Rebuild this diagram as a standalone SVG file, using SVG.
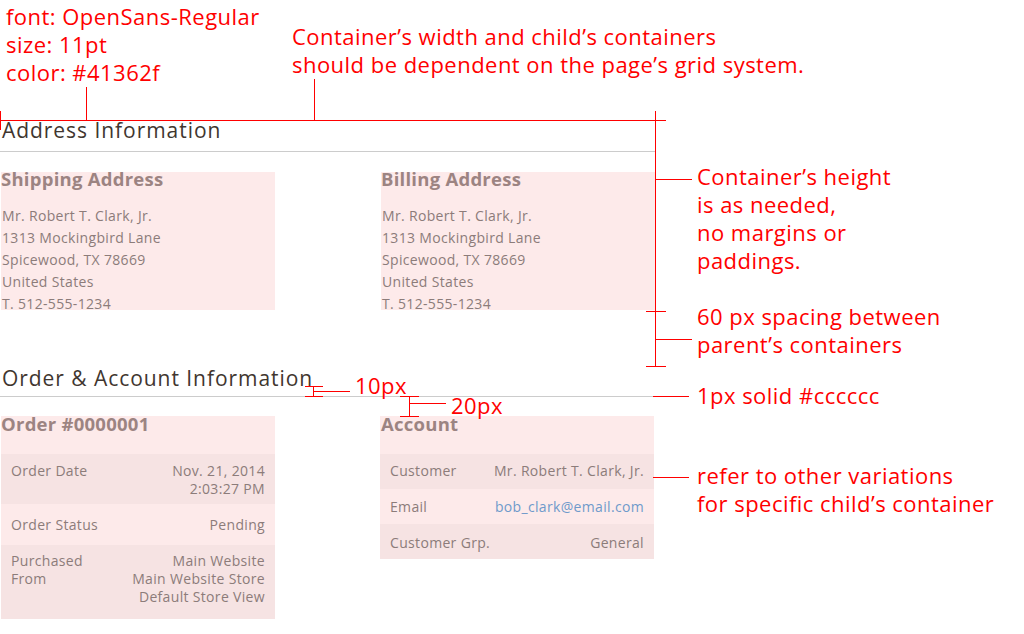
<svg xmlns="http://www.w3.org/2000/svg" width="1024" height="634" viewBox="0 0 1024 634">
<style>
.note{font-family:"Open Sans","Noto Sans",sans-serif;font-size:22px;letter-spacing:0.47px;fill:#ff0000}
.h1{font-family:"Open Sans","Noto Sans",sans-serif;font-size:21px;letter-spacing:0.95px;fill:#41362f}
.h2{font-family:"Open Sans","Noto Sans",sans-serif;font-size:18.5px;letter-spacing:0.25px;font-weight:bold;fill:#9c8482}
.t{font-family:"Open Sans","Noto Sans",sans-serif;font-size:14px;letter-spacing:0.33px;fill:#8c7c7a}
.r{text-anchor:end}
.link{fill:#6f9acb}
.red{stroke:#ff0000;stroke-width:1;fill:none}
.rule{stroke:#cccccc;stroke-width:1}
.bg1{fill:#fdeaea}
.bg2{fill:#f6e3e3}
</style>
<rect width="1024" height="634" fill="#ffffff"/>

<g id="annotation-font">
<text class="note" x="6" y="25">font: OpenSans-Regular</text>
<text class="note" x="6" y="53">size: 11pt</text>
<text class="note" x="6" y="81">color: #41362f</text>
</g>
<g id="annotation-width">
<text class="note" x="292" y="45">Container’s width and child’s containers</text>
<text class="note" x="292" y="73">should be dependent on the page’s grid system.</text>
</g>

<g id="address-section">
<text class="h1" x="2" y="138">Address Information</text>
<line class="rule" x1="0" y1="151.5" x2="655" y2="151.5"/>
</g>

<g id="shipping-address">
<rect class="bg1" x="1" y="172" width="274" height="138"/>
<text class="h2" x="1" y="186">Shipping Address</text>
<text class="t" x="2" y="221">Mr. Robert T. Clark, Jr.</text>
<text class="t" x="2" y="243">1313 Mockingbird Lane</text>
<text class="t" x="2" y="265">Spicewood, TX 78669</text>
<text class="t" x="2" y="287">United States</text>
<text class="t" x="2" y="309">T. 512-555-1234</text>
</g>

<g id="billing-address">
<rect class="bg1" x="381" y="172" width="274" height="138"/>
<text class="h2" x="381" y="186">Billing Address</text>
<text class="t" x="382" y="221">Mr. Robert T. Clark, Jr.</text>
<text class="t" x="382" y="243">1313 Mockingbird Lane</text>
<text class="t" x="382" y="265">Spicewood, TX 78669</text>
<text class="t" x="382" y="287">United States</text>
<text class="t" x="382" y="309">T. 512-555-1234</text>
</g>

<g id="order-section">
<text class="h1" x="2" y="386">Order &amp; Account Information</text>
<line class="rule" x1="0" y1="396.5" x2="655" y2="396.5"/>
</g>

<g id="order">
<rect class="bg1" x="1" y="416" width="274" height="38"/>
<rect class="bg2" x="1" y="454" width="274" height="50"/>
<rect class="bg1" x="1" y="504" width="274" height="41"/>
<rect class="bg2" x="1" y="545" width="274" height="74"/>
<text class="h2" x="1" y="431">Order #0000001</text>
<text class="t" x="11" y="476">Order Date</text>
<text class="t r" x="265" y="476">Nov. 21, 2014</text>
<text class="t r" x="265" y="494">2:03:27 PM</text>
<text class="t" x="11" y="530">Order Status</text>
<text class="t r" x="265" y="530">Pending</text>
<text class="t" x="11" y="566">Purchased</text>
<text class="t" x="11" y="584">From</text>
<text class="t r" x="265" y="566">Main Website</text>
<text class="t r" x="265" y="584">Main Website Store</text>
<text class="t r" x="265" y="602">Default Store View</text>
</g>

<g id="account">
<rect class="bg1" x="380" y="416" width="274" height="38"/>
<rect class="bg2" x="380" y="454" width="274" height="35"/>
<rect class="bg1" x="380" y="489" width="274" height="35"/>
<rect class="bg2" x="380" y="524" width="274" height="35"/>
<text class="h2" x="381" y="431">Account</text>
<text class="t" x="390" y="476">Customer</text>
<text class="t r" x="644" y="476">Mr. Robert T. Clark, Jr.</text>
<text class="t" x="390" y="512">Email</text>
<text class="t r link" x="644" y="512">bob_clark@email.com</text>
<text class="t" x="390" y="548">Customer Grp.</text>
<text class="t r" x="644" y="548">General</text>
</g>

<g id="annotation-height">
<text class="note" x="697" y="185">Container’s height</text>
<text class="note" x="697" y="213">is as needed,</text>
<text class="note" x="697" y="241">no margins or</text>
<text class="note" x="697" y="269">paddings.</text>
</g>
<g id="annotation-spacing">
<text class="note" x="697" y="325">60 px spacing between</text>
<text class="note" x="697" y="353">parent’s containers</text>
</g>
<g id="annotation-rule">
<text class="note" x="697" y="404">1px solid #cccccc</text>
</g>
<g id="annotation-child">
<text class="note" x="697" y="484">refer to other variations</text>
<text class="note" x="697" y="512">for specific child’s container</text>
</g>
<g id="annotation-10px">
<text class="note" x="355" y="394">10px</text>
</g>
<g id="annotation-20px">
<text class="note" x="451" y="414">20px</text>
</g>

<g id="connectors">
<path class="red" d="M0 120.5H666M0.5 111V130M86.5 87V120.5M314.5 79V120.5"/>
<path class="red" d="M655.5 111V366M655.5 179.5H692M646 311.5H666M655.5 339.5H692M646 366.5H666"/>
<path class="red" d="M305 386.5H323M305 396.5H323M313.5 386.5V396.5M313.5 391.5H350"/>
<path class="red" d="M400 396.5H419M400 416.5H419M409.5 396.5V416.5M409.5 403.5H446"/>
<path class="red" d="M653 396.5H689M653 477.5H689"/>
</g>
</svg>
